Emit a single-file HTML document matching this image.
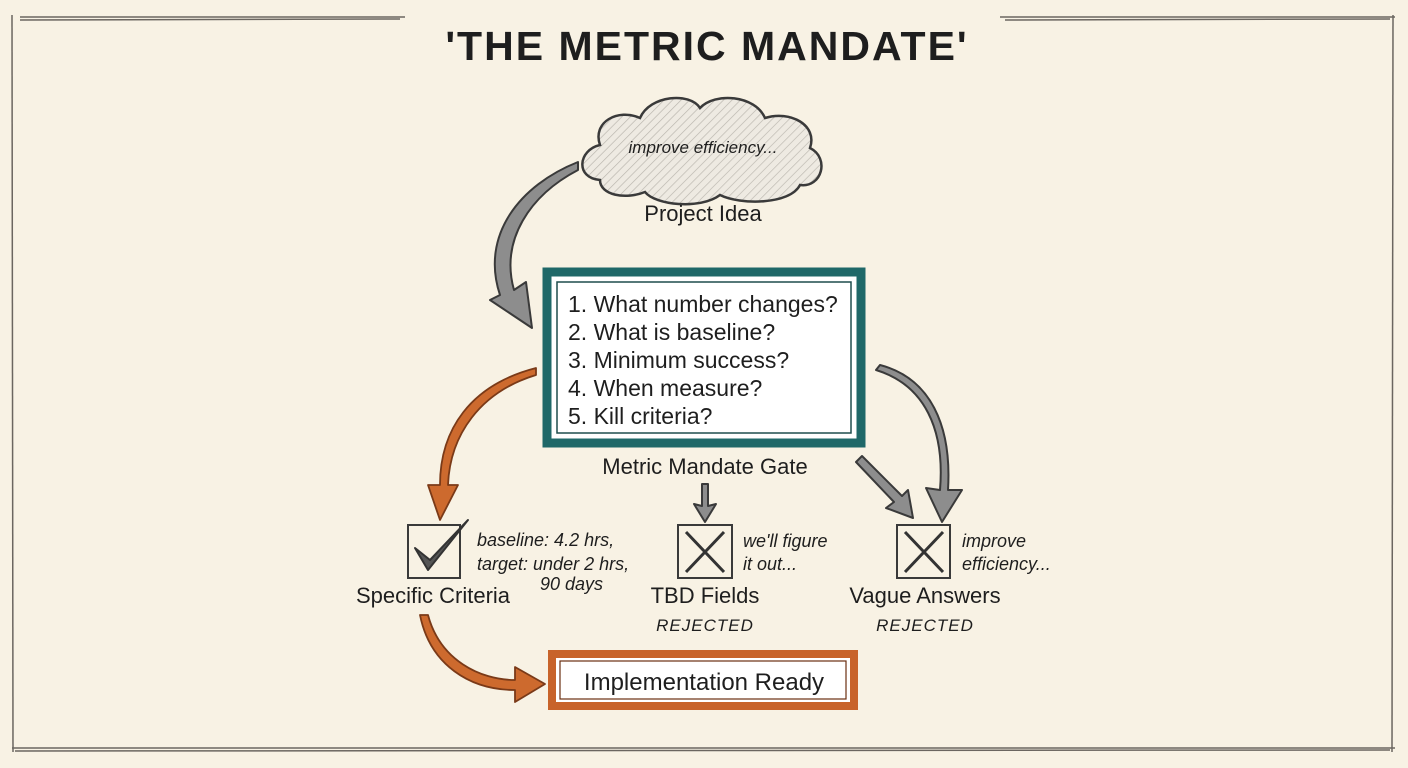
<!DOCTYPE html>
<html><head><meta charset="utf-8"><style>
html,body{margin:0;padding:0;background:#f8f2e4;}
svg{display:block}
text{font-family:"Liberation Sans",sans-serif;fill:#1e1e1e}
.it{font-style:italic}
</style></head><body>
<svg width="1408" height="768" viewBox="0 0 1408 768" xmlns="http://www.w3.org/2000/svg">
<defs>
<pattern id="h" width="6" height="6" patternUnits="userSpaceOnUse" patternTransform="rotate(45)">
<rect width="6" height="6" fill="#eeeae2"/><line x1="0" y1="0" x2="0" y2="6" stroke="#b9b5ad" stroke-width="1.3"/></pattern>
</defs>
<rect width="1408" height="768" fill="#f8f2e4"/>
<g stroke="#6b6660" stroke-width="1.5" fill="none">
<line x1="20" y1="17" x2="405" y2="17"/><line x1="20" y1="20" x2="400" y2="19"/>
<line x1="1000" y1="17" x2="1395" y2="17"/><line x1="1005" y1="20" x2="1390" y2="19"/>
<line x1="12" y1="15" x2="13" y2="752"/><line x1="1393" y1="15" x2="1392" y2="752"/>
<line x1="12" y1="748" x2="1395" y2="748"/><line x1="15" y1="751" x2="1390" y2="750"/>
</g>
<text x="707" y="60" text-anchor="middle" font-size="41" font-weight="bold" fill="#2a2a2a" letter-spacing="2">'THE METRIC MANDATE'</text>
<path d="M600,180 C575,178 578,150 600,145 C592,122 618,108 640,118 C650,95 690,92 700,108 C715,92 755,95 765,118 C790,110 818,125 810,148 C830,158 822,188 800,185 C790,205 740,205 720,195 C700,210 655,205 645,192 C625,200 600,195 600,180 Z" fill="url(#h)" stroke="#3a3a3a" stroke-width="2.5"/>
<text x="703" y="153" text-anchor="middle" font-size="17" class="it">improve efficiency...</text>
<text x="703" y="221" text-anchor="middle" font-size="22">Project Idea</text>
<rect x="547" y="272" width="314" height="171" fill="#fff" stroke="#1f6868" stroke-width="9"/>
<rect x="557" y="282" width="294" height="151" fill="none" stroke="#1f4d4d" stroke-width="1.5"/>
<g font-size="23">
<text x="568" y="312">1. What number changes?</text>
<text x="568" y="340">2. What is baseline?</text>
<text x="568" y="368">3. Minimum success?</text>
<text x="568" y="396">4. When measure?</text>
<text x="568" y="424">5. Kill criteria?</text>
</g>
<text x="705" y="474" text-anchor="middle" font-size="22">Metric Mandate Gate</text>
<g stroke="#3a3a3a" stroke-width="2" stroke-linejoin="round">
<path d="M578,162 C520,185 480,235 500,295 L490,300 L532,328 L526,282 L514,290 C500,240 530,195 578,170 Z" fill="#8d8d8d"/>
<path d="M702,484 L708,484 L708,506 L716,504 L705,522 L694,504 L702,506 Z" fill="#8d8d8d"/>
<path d="M856,462 L862,456 L902,496 L908,490 L913,518 L886,508 L894,502 Z" fill="#8d8d8d"/>
<path d="M876,370 C925,385 945,430 940,490 L926,488 L942,522 L962,490 L948,490 C952,425 930,378 880,365 Z" fill="#8d8d8d"/>
</g>
<g stroke="#7a3a18" stroke-width="1.8" stroke-linejoin="round" fill="#cd6a2e">
<path d="M536,368 C470,385 440,430 440,485 L428,485 L440,520 L458,485 L448,485 C450,435 480,392 536,375 Z"/>
<path d="M428,615 C440,660 480,680 515,680 L515,667 L545,684 L515,702 L515,690 C470,690 430,665 420,615 Z"/>
</g>
<g stroke="#3a3a3a" stroke-width="2" fill="none">
<rect x="408" y="525" width="52" height="53"/>
<rect x="678" y="525" width="54" height="53"/>
<rect x="897" y="525" width="53" height="53"/>
</g>
<path d="M415,548 L428,570 L468,520 L430,560 Z" fill="#555" stroke="#333" stroke-width="2" stroke-linejoin="round"/>
<g stroke="#333" stroke-width="3">
<line x1="686" y1="532" x2="724" y2="572"/><line x1="724" y1="532" x2="686" y2="572"/>
<line x1="905" y1="532" x2="943" y2="572"/><line x1="943" y1="532" x2="905" y2="572"/>
</g>
<g font-size="18" class="it">
<text x="477" y="546">baseline: 4.2 hrs,</text>
<text x="477" y="570">target: under 2 hrs,</text>
<text x="540" y="590">90 days</text>
<text x="743" y="547">we'll figure</text>
<text x="743" y="570">it out...</text>
<text x="962" y="547">improve</text>
<text x="962" y="570">efficiency...</text>
</g>
<g font-size="22" text-anchor="middle">
<text x="433" y="603">Specific Criteria</text>
<text x="705" y="603">TBD Fields</text>
<text x="925" y="603">Vague Answers</text>
</g>
<g font-size="17" text-anchor="middle" class="it" letter-spacing="1">
<text x="705" y="631">REJECTED</text>
<text x="925" y="631">REJECTED</text>
</g>
<rect x="552" y="654" width="302" height="52" fill="#fff" stroke="#c8632a" stroke-width="8"/>
<rect x="560" y="661" width="286" height="38" fill="none" stroke="#6b2e10" stroke-width="1.2"/>
<text x="704" y="690" text-anchor="middle" font-size="24">Implementation Ready</text>
</svg>
</body></html>
